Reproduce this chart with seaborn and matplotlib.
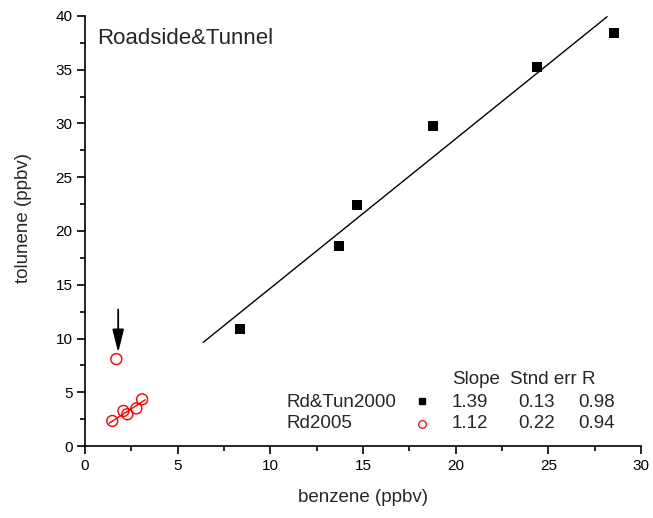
import numpy as np
import pandas as pd
import matplotlib
matplotlib.use("Agg")
import matplotlib.pyplot as plt
from matplotlib.ticker import MultipleLocator
from matplotlib.lines import Line2D
import seaborn as sns

# Roadside & tunnel samples, 2000 campaign (ppbv)
benzene_2000 = [8.36, 13.69, 14.68, 18.80, 24.40, 28.55]
toluene_2000 = [10.87, 18.60, 22.42, 29.80, 35.30, 38.45]

# Roadside samples, 2005 campaign (ppbv); the last one is the flagged outlier
benzene_2005 = [1.47, 2.07, 2.28, 2.77, 3.08, 1.69]
toluene_2005 = [2.33, 3.26, 2.95, 3.50, 4.34, 8.09]
outlier_2005 = [False, False, False, False, False, True]

# Regression statistics
series_names = ["Rd&Tun2000", "Rd2005"]
slopes = [1.39, 1.12]
std_errs = [0.13, 0.22]
r_values = [0.98, 0.94]

# x span of each fitted line
fit_span_2000 = [6.38, 28.17]
fit_span_2005 = [1.30, 3.24]

sns.set_theme(style="ticks")
plt.rcParams["font.family"] = ["Liberation Sans", "DejaVu Sans"]

fig = plt.figure(figsize=(6.53, 5.18), dpi=100)
ax = fig.add_axes([85 / 653, 72 / 518, 556 / 653, 430 / 518])

df2000 = pd.DataFrame({"benzene": benzene_2000, "toluene": toluene_2000})
df2005 = pd.DataFrame({"benzene": benzene_2005, "toluene": toluene_2005,
                       "outlier": outlier_2005})

sns.scatterplot(data=df2000, x="benzene", y="toluene", marker="s", s=44,
                color="black", edgecolor="black", linewidth=0, ax=ax, zorder=3)
sns.scatterplot(data=df2005, x="benzene", y="toluene", marker="o", s=62,
                facecolor="none", edgecolor="red", linewidth=1.0, ax=ax, zorder=3)

# Fitted lines: stated slope, passing through the centroid of the fitted points
fit2000_x = np.array(fit_span_2000)
b2000 = np.mean(toluene_2000) - slopes[0] * np.mean(benzene_2000)
sns.lineplot(x=fit2000_x, y=slopes[0] * fit2000_x + b2000, color="black",
             linewidth=1.0, ax=ax, zorder=2)

fit_x05 = np.array(benzene_2005)[~np.array(outlier_2005)]
fit_y05 = np.array(toluene_2005)[~np.array(outlier_2005)]
fit2005_x = np.array(fit_span_2005)
b2005 = fit_y05.mean() - slopes[1] * fit_x05.mean()
sns.lineplot(x=fit2005_x, y=slopes[1] * fit2005_x + b2005, color="red",
             linewidth=1.0, ax=ax, zorder=2)

# Arrow pointing at the excluded 2005 sample
ox = benzene_2005[outlier_2005.index(True)]
oy = toluene_2005[outlier_2005.index(True)]
ax.annotate("", xy=(ox + 0.1, oy + 0.6), xytext=(ox + 0.1, oy + 4.6),
            arrowprops=dict(arrowstyle="-|>,head_length=1.0,head_width=0.25",
                            color="black", lw=1.3, mutation_scale=14,
                            shrinkA=0, shrinkB=0))

ax.set_xlim(0, 30)
ax.set_ylim(0, 40)
ax.xaxis.set_major_locator(MultipleLocator(5))
ax.xaxis.set_minor_locator(MultipleLocator(2.5))
ax.yaxis.set_major_locator(MultipleLocator(5))
ax.yaxis.set_minor_locator(MultipleLocator(2.5))
ax.tick_params(which="major", direction="out", length=6, width=1.2,
               labelsize=11, pad=3, color="black", labelcolor="black")
ax.tick_params(which="minor", direction="out", length=3.5, width=1.2,
               color="black")
for side in ("left", "bottom"):
    ax.spines[side].set_linewidth(1.2)
    ax.spines[side].set_color("black")
sns.despine(ax=ax)

ax.set_xlabel("benzene (ppbv)", fontsize=13.5, labelpad=12)
ax.set_ylabel("tolunene (ppbv)", fontsize=13.5, labelpad=17)
ax.yaxis.label.set_y(0.53)

ax.text(0.65, 37.9, "Roadside&Tunnel", fontsize=16, va="center", ha="left")

# Statistics table with marker keys
fs = 13.5
row_y = [4.09, 2.05]
ax.text(19.8, 6.14, "Slope", fontsize=fs, va="center")
ax.text(22.95, 6.14, "Stnd err", fontsize=fs, va="center")
ax.text(26.8, 6.14, "R", fontsize=fs, va="center")
for name, sl, se, r, y in zip(series_names, slopes, std_errs, r_values, row_y):
    ax.text(10.85, y, name, fontsize=fs, va="center")
    ax.text(19.8, y, f"{sl:.2f}", fontsize=fs, va="center")
    ax.text(23.4, y, f"{se:.2f}", fontsize=fs, va="center")
    ax.text(26.6, y, f"{r:.2f}", fontsize=fs, va="center")

keys = [Line2D([], [], ls="none", marker="s", ms=5, mfc="black", mec="black"),
        Line2D([], [], ls="none", marker="o", ms=5.5, mfc="none", mec="red",
               mew=0.9)]
ax.legend(keys, ["", ""], loc="center", bbox_to_anchor=(18.2 / 30, 2.95 / 40),
          frameon=False, handlelength=1, handletextpad=0, labelspacing=0.3,
          fontsize=fs, borderpad=0)

fig.savefig("out.png", dpi=100, facecolor="white")
